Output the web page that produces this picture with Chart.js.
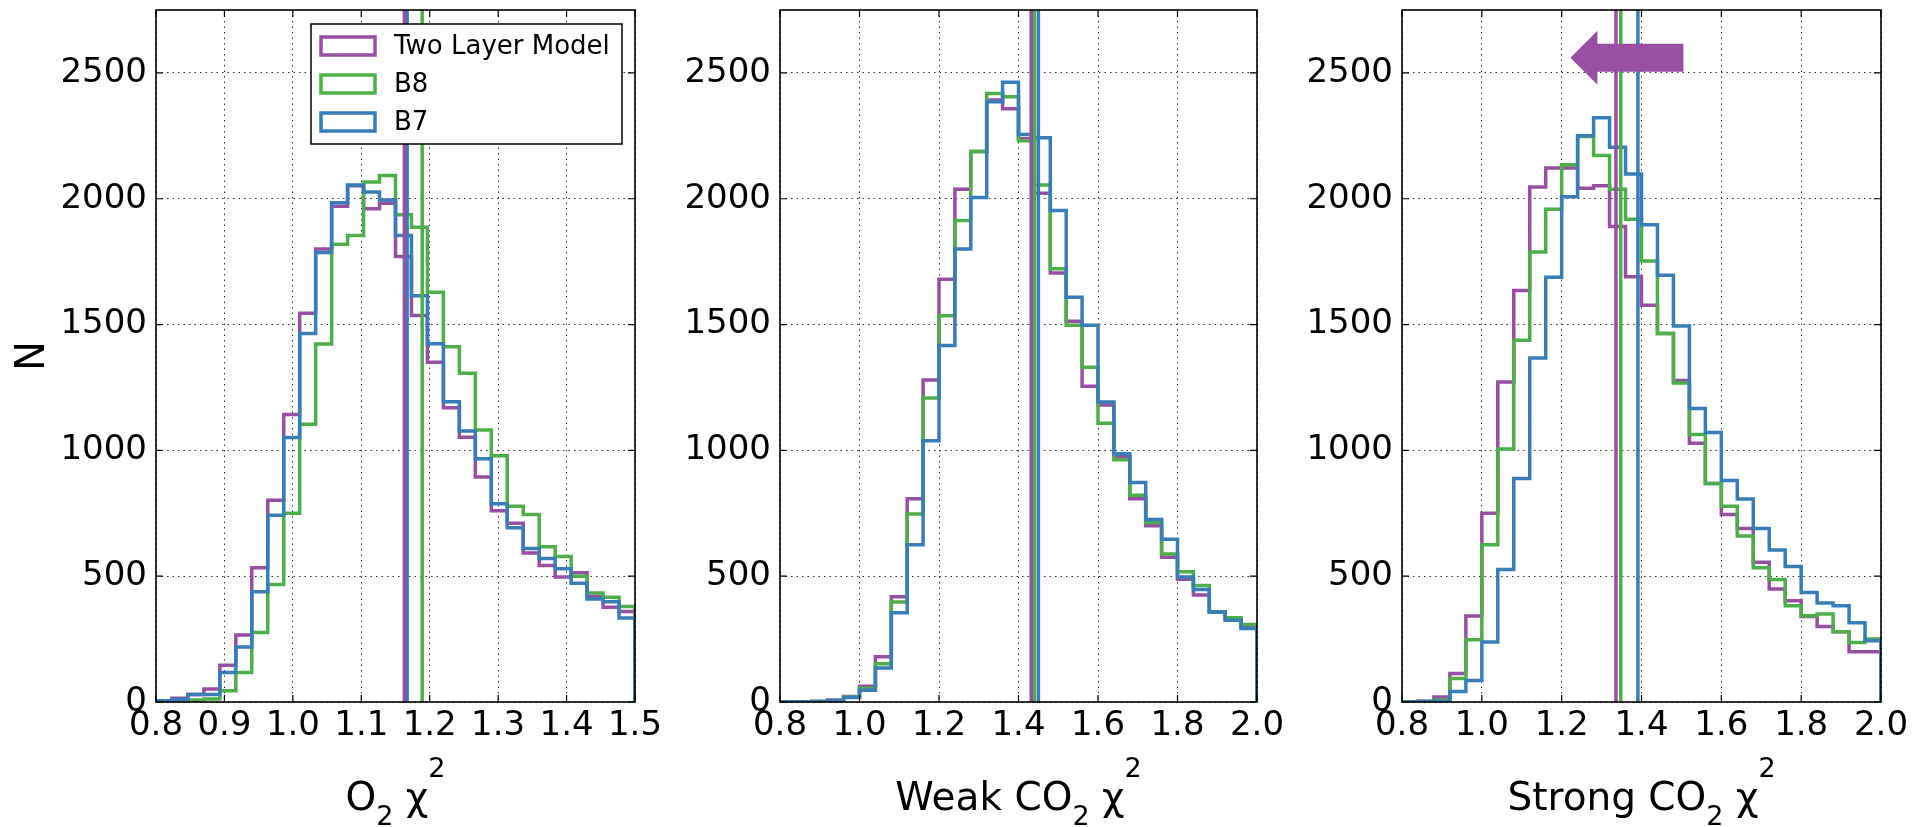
<!DOCTYPE html>
<html>
<head>
<meta charset="utf-8">
<script src="https://cdn.jsdelivr.net/npm/chart.js@4.4.0/dist/chart.umd.min.js"></script>
<style>
    html, body { margin: 0; padding: 0; background: #fff; }
    body { width: 1915px; height: 827px; position: relative; overflow: hidden; }
    canvas { position: absolute; top: 0; }
</style>
</head>
<body>
<canvas id="o2" width="700" height="827" style="left:0px"></canvas>
<canvas id="weak" width="640" height="827" style="left:660px"></canvas>
<canvas id="strong" width="625" height="827" style="left:1290px"></canvas>
<script>
// Series shared by all three panels
const seriesNames = ["Two Layer Model", "B8", "B7"];
const seriesColors = ["#984ea3", "#4daf4a", "#377eb8"];

const yMax = 2750;
const yTicks = [0, 500, 1000, 1500, 2000, 2500];

// O2 chi^2 : 30 bins between 0.8 and 1.5
const o2Range = [0.8, 1.5];
const o2XTicks = [0.8, 0.9, 1.0, 1.1, 1.2, 1.3, 1.4, 1.5];
const o2TwoLayer = [5, 15, 30, 52, 146, 266, 534, 802, 1143, 1545, 1800, 1970, 2052, 1960, 1982,
    1770, 1536, 1350, 1169, 1052, 894, 760, 710, 592, 542, 497, 514, 419, 377, 360];
const o2B8 = [3, 5, 8, 12, 45, 117, 276, 467, 750, 1104, 1423, 1819, 1854, 2066, 2092,
    1936, 1887, 1628, 1412, 1306, 1081, 979, 778, 745, 617, 578, 500, 433, 416, 380];
const o2B7 = [5, 10, 30, 30, 117, 219, 438, 742, 1051, 1464, 1786, 1984, 2055, 2027, 1995,
    1854, 1614, 1424, 1193, 1077, 967, 788, 692, 610, 570, 530, 472, 409, 398, 334];
const o2Medians = [1.163, 1.189, 1.167];

// Weak CO2 chi^2 : 30 bins between 0.8 and 2.0
const weakRange = [0.8, 2.0];
const co2XTicks = [0.8, 1.0, 1.2, 1.4, 1.6, 1.8, 2.0];
const weakTwoLayer = [0, 0, 2, 8, 22, 63, 180, 418, 808, 1280, 1680, 2038, 2188, 2392, 2358,
    2238, 2022, 1705, 1513, 1255, 1180, 975, 808, 700, 575, 488, 425, 358, 330, 297];
const weakB8 = [0, 0, 2, 6, 20, 55, 152, 397, 747, 1208, 1535, 1913, 2188, 2418, 2405,
    2230, 2055, 1722, 1497, 1330, 1108, 963, 822, 713, 588, 518, 463, 358, 335, 308];
const weakB7 = [0, 0, 2, 5, 18, 47, 135, 355, 625, 1038, 1417, 1800, 2005, 2385, 2463,
    2255, 2242, 1953, 1608, 1497, 1192, 987, 872, 725, 647, 497, 447, 358, 325, 292];
const weakMedians = [1.432, 1.440, 1.450];

// Strong CO2 chi^2 : 30 bins between 0.8 and 2.0
const strongRange = [0.8, 2.0];
const strongTwoLayer = [0, 3, 20, 113, 342, 750, 1272, 1635, 2047, 2122, 2122, 2042, 2052, 1890, 1690,
    1577, 1464, 1278, 1028, 868, 745, 689, 555, 449, 402, 340, 300, 279, 200, 200];
const strongB8 = [0, 2, 8, 93, 247, 625, 1005, 1438, 1788, 1958, 2135, 2247, 2172, 2038, 1918,
    1753, 1464, 1268, 1063, 868, 778, 660, 534, 487, 382, 343, 350, 279, 236, 250];
const strongB7 = [0, 2, 3, 42, 85, 238, 527, 888, 1367, 1688, 2008, 2250, 2322, 2205, 2098,
    1897, 1696, 1494, 1166, 1071, 880, 807, 689, 604, 538, 435, 393, 382, 315, 243];
const strongMedians = [1.336, 1.348, 1.391];

// arrow in the strong panel (data units)
const arrowFrom = 1.505;
const arrowTo = 1.222;
const arrowLevel = 2560;

// axis titles: [text, kind]
const o2Title = [["O", ""], ["2", "sub"], [" ", ""], ["χ", ""], ["2", "sup"]];
const weakTitle = [["Weak CO", ""], ["2", "sub"], [" ", ""], ["χ", ""], ["2", "sup"]];
const strongTitle = [["Strong CO", ""], ["2", "sub"], [" ", ""], ["χ", ""], ["2", "sup"]];

Chart.defaults.font.family = '"DejaVu Sans", sans-serif';
Chart.defaults.color = "#000";

function stepPoints(counts, lo, hi) {
    const w = (hi - lo) / counts.length;
    const pts = [{ x: lo, y: 0 }];
    counts.forEach((c, i) => pts.push({ x: lo + i * w, y: c }));
    pts.push({ x: hi, y: counts[counts.length - 1] });
    pts.push({ x: hi, y: 0 });
    return pts;
}

function drawTitle(ctx, parts, cx, baseY) {
    let total = 0;
    const pieces = parts.map(([t, kind]) => {
        const font = kind ? '27px "DejaVu Sans"' : '39px "DejaVu Sans"';
        ctx.font = font;
        const w = ctx.measureText(t).width;
        total += w;
        return { t, kind, font, w };
    });
    let x = cx - total / 2;
    ctx.fillStyle = "#000";
    ctx.textAlign = "left";
    ctx.textBaseline = "alphabetic";
    pieces.forEach(p => {
        ctx.font = p.font;
        let y = baseY;
        if (p.kind === "sub") y += 15;
        if (p.kind === "sup") y -= 33;
        ctx.fillText(p.t, x, y);
        x += p.w;
    });
}

function drawLegend(ctx, area) {
    const w = 311, h = 120;
    const left = area.right - 13 - w;
    const top = area.top + 14;
    ctx.fillStyle = "#fff";
    ctx.fillRect(left, top, w, h);
    ctx.strokeStyle = "#000";
    ctx.lineWidth = 1.5;
    ctx.strokeRect(left, top, w, h);
    ctx.font = '26px "DejaVu Sans"';
    ctx.textAlign = "left";
    ctx.textBaseline = "middle";
    seriesNames.forEach((name, i) => {
        const y = top + 22 + i * 38;
        ctx.fillStyle = "#fff";
        ctx.fillRect(left + 10, y - 9, 54, 18);
        ctx.strokeStyle = seriesColors[i];
        ctx.lineWidth = 3.5;
        ctx.strokeRect(left + 10, y - 9, 54, 18);
        ctx.fillStyle = "#000";
        ctx.fillText(name, left + 83, y + 1);
    });
}

const extras = {
    id: "extras",
    afterDatasetsDraw(chart, args, opts) {
        const ctx = chart.ctx;
        const area = chart.chartArea;
        const xs = chart.scales.x, ys = chart.scales.y;
        ctx.save();

        if (opts.arrow) {
            const x0 = xs.getPixelForValue(arrowFrom);
            const x1 = xs.getPixelForValue(arrowTo);
            const y = ys.getPixelForValue(arrowLevel);
            const hb = x1 + 27;
            ctx.fillStyle = seriesColors[0];
            ctx.beginPath();
            ctx.moveTo(x0, y - 14);
            ctx.lineTo(hb, y - 14);
            ctx.lineTo(hb, y - 27);
            ctx.lineTo(x1, y);
            ctx.lineTo(hb, y + 27);
            ctx.lineTo(hb, y + 14);
            ctx.lineTo(x0, y + 14);
            ctx.closePath();
            ctx.fill();
        }

        // inward tick marks on all four sides
        ctx.strokeStyle = "#000";
        ctx.lineWidth = 1.2;
        ctx.beginPath();
        xs.ticks.forEach(t => {
            const px = xs.getPixelForValue(t.value);
            ctx.moveTo(px, area.bottom); ctx.lineTo(px, area.bottom - 7);
            ctx.moveTo(px, area.top); ctx.lineTo(px, area.top + 7);
        });
        ys.ticks.forEach(t => {
            const py = ys.getPixelForValue(t.value);
            ctx.moveTo(area.left, py); ctx.lineTo(area.left + 7, py);
            ctx.moveTo(area.right, py); ctx.lineTo(area.right - 7, py);
        });
        ctx.stroke();

        ctx.lineWidth = 1.6;
        ctx.strokeRect(area.left, area.top, area.right - area.left, area.bottom - area.top);

        if (opts.legend) drawLegend(ctx, area);
        ctx.restore();
    },
    afterDraw(chart, args, opts) {
        const area = chart.chartArea;
        chart.ctx.save();
        drawTitle(chart.ctx, opts.title, (area.left + area.right) / 2, 810);
        chart.ctx.restore();
    }
};

function makePanel(id, cfg) {
    const datasets = [];
    cfg.counts.forEach((c, i) => {
        datasets.push({
            label: seriesNames[i],
            data: stepPoints(c, cfg.range[0], cfg.range[1]),
            borderColor: seriesColors[i],
            borderWidth: 3.5,
            stepped: true,
            pointRadius: 0,
            fill: false,
            borderJoinStyle: "miter",
            order: 10 - i
        });
    });
    cfg.medians.forEach((m, i) => {
        datasets.push({
            label: seriesNames[i] + " median",
            data: [{ x: m, y: 0 }, { x: m, y: yMax }],
            borderColor: seriesColors[i],
            borderWidth: 3.5,
            pointRadius: 0,
            fill: false,
            order: 1 + i
        });
    });

    const gridOpts = { color: "#333", lineWidth: 1, drawTicks: false };
    const borderOpts = { display: false, dash: [1.5, 4] };

    return new Chart(document.getElementById(id), {
        type: "line",
        data: { datasets: datasets },
        plugins: [extras],
        options: {
            responsive: false,
            animation: false,
            devicePixelRatio: 1,
            events: [],
            layout: { padding: { left: 0, right: cfg.padRight, top: 10, bottom: 0 } },
            plugins: {
                legend: { display: false },
                tooltip: { enabled: false },
                extras: { title: cfg.title, legend: cfg.legend, arrow: cfg.arrow }
            },
            scales: {
                x: {
                    type: "linear",
                    min: cfg.range[0],
                    max: cfg.range[1],
                    grid: gridOpts,
                    border: borderOpts,
                    ticks: {
                        padding: 4,
                        maxRotation: 0,
                        autoSkip: false,
                        font: { size: 34 },
                        color: "#000",
                        callback: v => v.toFixed(1)
                    },
                    afterBuildTicks: s => { s.ticks = cfg.xTicks.map(v => ({ value: v })); },
                    afterFit: s => {
                        s.height = 125;
                        s.paddingLeft = 0;
                        s.paddingRight = 0;
                    }
                },
                y: {
                    type: "linear",
                    min: 0,
                    max: yMax,
                    grid: gridOpts,
                    border: borderOpts,
                    ticks: {
                        padding: 9,
                        font: { size: 34 },
                        color: "#000",
                        callback: v => String(v)
                    },
                    afterBuildTicks: s => { s.ticks = yTicks.map(v => ({ value: v })); },
                    title: {
                        display: cfg.yTitle,
                        text: "N",
                        font: { size: 40 },
                        color: "#000",
                        padding: { top: 10, bottom: 0 }
                    },
                    afterFit: s => {
                        s.width = cfg.yWidth;
                        s.paddingTop = 0;
                        s.paddingBottom = 0;
                    }
                }
            }
        }
    });
}

makePanel("o2", {
    range: o2Range, xTicks: o2XTicks,
    counts: [o2TwoLayer, o2B8, o2B7], medians: o2Medians,
    title: o2Title, legend: true, arrow: false, yTitle: true,
    yWidth: 156, padRight: 65
});
makePanel("weak", {
    range: weakRange, xTicks: co2XTicks,
    counts: [weakTwoLayer, weakB8, weakB7], medians: weakMedians,
    title: weakTitle, legend: false, arrow: false, yTitle: false,
    yWidth: 120, padRight: 43
});
makePanel("strong", {
    range: strongRange, xTicks: co2XTicks,
    counts: [strongTwoLayer, strongB8, strongB7], medians: strongMedians,
    title: strongTitle, legend: false, arrow: true, yTitle: false,
    yWidth: 112, padRight: 34
});
</script>
</body>
</html>
